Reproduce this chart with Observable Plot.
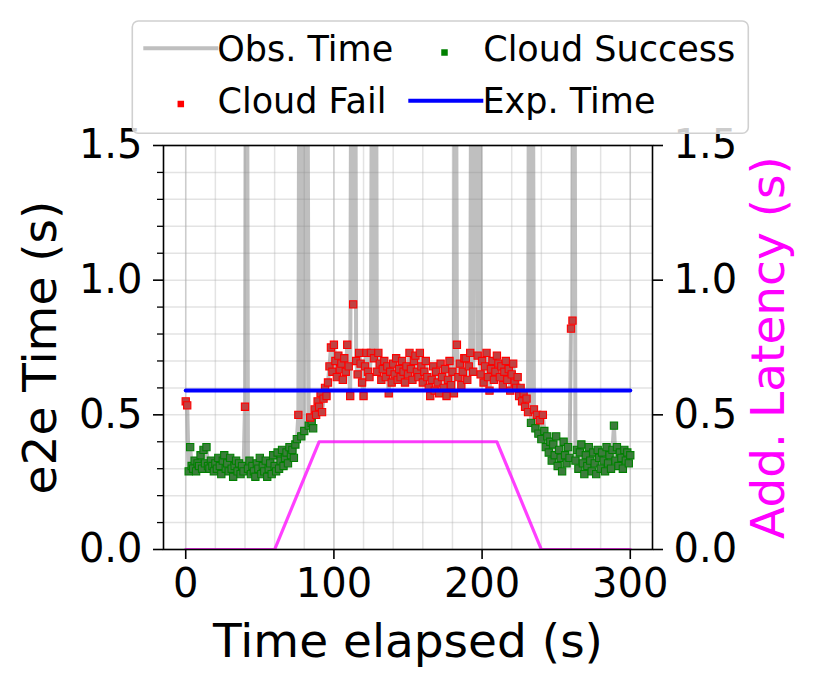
<!DOCTYPE html>
<html>
<head>
<meta charset="utf-8">
<script src="https://cdn.jsdelivr.net/npm/d3@7"></script>
<script src="https://cdn.jsdelivr.net/npm/@observablehq/plot@0.6"></script>
<style>
  html, body { margin: 0; padding: 0; background: #fff; }
  #wrap { position: relative; width: 815px; height: 687px; font-family: "DejaVu Sans", sans-serif; }
  #legend { position: absolute; left: 131px; top: 20px; }
</style>
</head>
<body>
<div id="wrap"></div>
<script>
// ---- data ----
// observed end-to-end time, one sample per second, t = 0 .. 300 s (values > 1.5 are off-chart spikes)
const obsTime = [
  0.55,0.535,0.29,0.38,0.31,0.30,0.33,0.29,0.32,0.31,
  0.35,0.30,0.37,0.32,0.38,0.31,0.30,0.33,0.31,0.29,
  0.32,0.30,0.34,0.31,0.28,0.33,0.35,0.30,0.32,0.29,
  0.34,0.30,0.27,0.31,0.33,0.29,0.32,0.28,0.31,0.29,
  0.53,3.2,0.30,0.33,0.28,0.31,0.29,0.27,0.32,0.30,
  0.34,0.28,0.31,0.29,0.33,0.27,0.30,0.32,0.28,0.35,
  0.31,0.29,0.36,0.30,0.33,0.37,0.31,0.34,0.36,0.32,
  0.38,0.35,0.37,0.34,0.39,0.41,0.50,2.8,0.42,2.5,
  0.44,3.0,2.2,0.46,0.49,0.47,0.45,0.52,0.50,0.55,
  0.53,0.58,0.51,0.56,0.60,0.57,0.62,0.68,0.75,0.66,
  0.76,0.70,0.64,0.72,0.67,0.69,0.63,0.71,0.66,0.76,
  0.68,0.57,2.6,0.91,3.0,0.70,0.65,0.73,0.69,0.62,
  0.57,0.68,0.73,0.66,0.64,0.73,2.7,0.71,3.1,0.66,
  0.73,0.69,0.63,0.67,0.70,0.64,0.68,0.58,0.66,0.62,
  0.69,0.65,0.71,0.63,0.67,0.64,0.70,0.66,0.62,0.68,
  0.65,0.73,0.67,0.63,0.70,0.72,0.66,0.64,0.73,0.68,
  0.62,0.66,0.70,0.64,0.60,0.57,0.63,0.68,0.59,0.66,
  0.62,0.58,0.69,0.64,0.60,0.67,0.57,0.63,0.70,0.61,
  0.66,0.58,2.8,0.76,0.64,0.69,0.61,0.66,0.71,0.71,
  0.63,0.68,0.73,2.6,0.66,3.0,2.3,0.72,2.7,0.65,
  0.70,0.62,0.68,0.73,0.64,0.59,0.67,0.70,0.63,0.66,
  0.72,0.69,0.64,0.68,0.61,0.66,0.70,0.63,0.67,0.59,
  0.65,0.69,0.62,0.60,0.64,0.57,0.60,0.55,0.58,0.53,
  0.56,0.51,2.9,0.47,2.5,0.52,0.45,0.50,0.43,0.48,
  0.41,0.50,0.44,0.38,0.42,0.36,0.40,0.33,0.39,0.35,
  0.42,0.31,0.37,0.34,0.29,0.40,0.35,0.32,0.38,0.34,
  0.82,0.85,3.2,0.33,0.37,0.30,0.36,0.39,0.32,0.28,
  0.35,0.31,0.38,0.33,0.29,0.36,0.32,0.28,0.37,0.34,
  0.30,0.36,0.33,0.29,0.38,0.32,0.35,0.30,0.37,0.46,
  0.33,0.38,0.31,0.36,0.34,0.30,0.37,0.33,0.36,0.32,
  0.35
];
// seconds (inclusive spans) where the cloud call failed; all other samples succeeded
const failSpans = [[0,1],[40,40],[76,76],[84,84],[87,231],[235,235],[237,237],[239,239],[241,241],[260,261]];
// expected time
const expT = [0, 300];
const expV = [0.59, 0.59];
// added latency (right axis)
const latT = [0, 60, 90, 210, 240, 300];
const latV = [0, 0, 0.4, 0.4, 0, 0];
// ticks
const xTicks = [0, 100, 200, 300];
const xGrid = [0,20,40,60,80,100,120,140,160,180,200,220,240,260,280,300];
const yTicks = [0, 0.5, 1.0, 1.5];
const yMinor = [0.1,0.2,0.3,0.4,0.6,0.7,0.8,0.9,1.1,1.2,1.3,1.4];
const yGrid = [0,0.1,0.2,0.3,0.4,0.5,0.6,0.7,0.8,0.9,1.0,1.1,1.2,1.3,1.4,1.5];

// ---- build tables ----
const isFail = t => failSpans.some(([a, b]) => t >= a && t <= b);
const obs = obsTime.map((v, t) => ({t, v, fail: isFail(t)}));
const exp = expT.map((t, i) => ({t, v: expV[i]}));
const lat = latT.map((t, i) => ({t, v: latV[i]}));
const fmt = d3.format(".1f");

const okFill = "#3c7c3c", okStroke = "#008000";
const failFill = "#bf4242", failStroke = "red";

const chart = Plot.plot({
  width: 815,
  height: 687,
  marginLeft: 163,
  marginRight: 163,
  marginTop: 145,
  marginBottom: 138,
  style: {fontFamily: "DejaVu Sans, sans-serif", background: "white", color: "black"},
  x: {domain: [-15, 315]},
  y: {domain: [0, 1.5]},
  marks: [
    Plot.gridY(yGrid, {stroke: "#b0b0b0", strokeOpacity: 0.35, strokeWidth: 1.5}),
    Plot.gridX(xGrid, {stroke: "#b0b0b0", strokeOpacity: 0.35, strokeWidth: 1.5}),
    Plot.gridX(xTicks, {stroke: "#b0b0b0", strokeOpacity: 0.45, strokeWidth: 1.5}),
    Plot.line(obs, {x: "t", y: "v", stroke: "gray", strokeOpacity: 0.5, strokeWidth: 4, clip: true}),
    Plot.dot(obs.filter(d => !d.fail), {x: "t", y: "v", symbol: "square", r: 4.1, fill: okFill, stroke: okStroke, strokeWidth: 1.1, clip: true}),
    Plot.dot(obs.filter(d => d.fail), {x: "t", y: "v", symbol: "square", r: 4.1, fill: failFill, stroke: failStroke, strokeWidth: 1.1, clip: true}),
    Plot.line(exp, {x: "t", y: "v", stroke: "blue", strokeWidth: 4}),
    Plot.line(lat, {x: "t", y: "v", stroke: "magenta", strokeOpacity: 0.75, strokeWidth: 3.2, clip: true}),
    Plot.frame({stroke: "black", strokeWidth: 1.6}),
    Plot.axisX({ticks: xTicks, tickSize: 10, tickPadding: 9, fontSize: 40, strokeWidth: 1.6, label: null, tickFormat: d => d}),
    Plot.axisY({ticks: yTicks, tickSize: 10, tickPadding: 11, fontSize: 40, strokeWidth: 1.6, label: null, tickFormat: fmt}),
    Plot.axisY({ticks: yMinor, tickSize: 6, strokeWidth: 1.3, label: null, tickFormat: () => ""}),
    Plot.axisY({anchor: "right", ticks: yTicks, tickSize: 10, tickPadding: 11, fontSize: 40, strokeWidth: 1.6, label: null, tickFormat: fmt}),
    Plot.text(["Time elapsed (s)"], {frameAnchor: "bottom", dy: 107, fontSize: 47, lineAnchor: "bottom", textAnchor: "middle", text: d => d, fill: "black"}),
    Plot.text(["e2e Time (s)"], {frameAnchor: "left", dx: -108, rotate: -90, fontSize: 47, lineAnchor: "bottom", textAnchor: "middle", text: d => d, fill: "black"}),
    Plot.text(["Add. Latency (s)"], {frameAnchor: "right", dx: 131, rotate: -90, fontSize: 47, lineAnchor: "bottom", textAnchor: "middle", text: d => d, fill: "magenta"})
  ]
});
const wrap = document.getElementById("wrap");
wrap.appendChild(chart);

// ---- legend (overlay) ----
const lg = d3.select(wrap).append("svg").attr("id", "legend").attr("width", 620).attr("height", 116);
lg.append("rect").attr("x", 1.3).attr("y", 1).attr("width", 616).attr("height", 112.3)
  .attr("rx", 6).attr("fill", "white").attr("fill-opacity", 0.8).attr("stroke", "#d0d0d0").attr("stroke-width", 1.6);
const items = [
  {label: "Obs. Time", kind: "line", color: "gray", opacity: 0.5, hx: 12.3, tx: 86.3, row: 0},
  {label: "Cloud Success", kind: "sq", color: okStroke, hx: 313.5, tx: 352.2, row: 0},
  {label: "Cloud Fail", kind: "sq", color: failStroke, hx: 49.8, tx: 86.5, row: 1},
  {label: "Exp. Time", kind: "line", color: "blue", opacity: 1, hx: 277.3, tx: 351.5, row: 1}
];
const rowBase = [41, 92.5];
const rowLine = [28.3, 80.7];
const rowMark = [32.5, 84];
for (const it of items) {
  if (it.kind === "line") {
    lg.append("line").attr("x1", it.hx).attr("x2", it.hx + 75).attr("y1", rowLine[it.row]).attr("y2", rowLine[it.row])
      .attr("stroke", it.color).attr("stroke-opacity", it.opacity).attr("stroke-width", 4);
  } else {
    lg.append("rect").attr("x", it.hx - 3.25).attr("y", rowMark[it.row] - 3.25).attr("width", 6.5).attr("height", 6.5)
      .attr("fill", it.color);
  }
  lg.append("text").attr("x", it.tx).attr("y", rowBase[it.row]).attr("font-size", 35)
    .attr("font-family", "DejaVu Sans, sans-serif").attr("fill", "black").text(it.label);
}
</script>
</body>
</html>
